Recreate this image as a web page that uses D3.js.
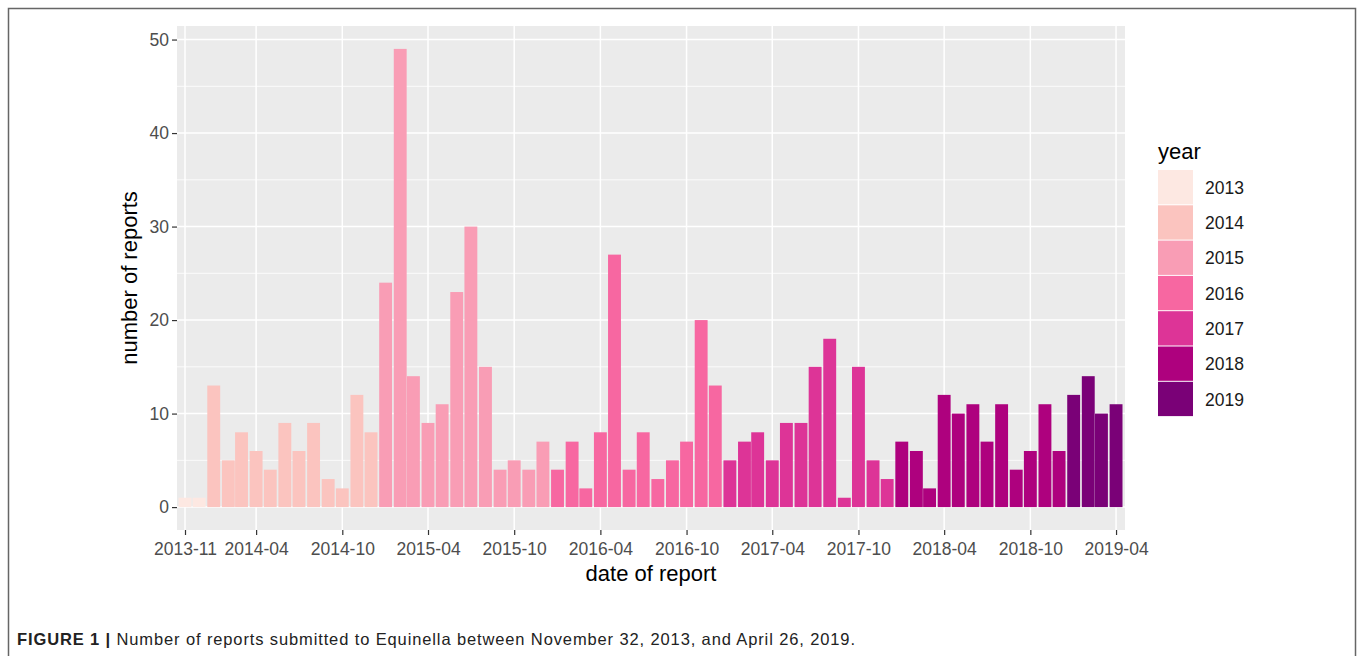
<!DOCTYPE html>
<html>
<head>
<meta charset="utf-8">
<script src="https://cdn.jsdelivr.net/npm/d3@7"></script>
<style>
  body { margin: 0; background: #fff; }
  svg { display: block; font-family: "Liberation Sans", Arial, sans-serif; }
</style>
</head>
<body>
<div id="chart"></div>
<script>
// monthly report counts, one array per year (first month is 2013-11)
const firstMonth = "2013-11";
const years = [2013, 2014, 2015, 2016, 2017, 2018, 2019];
const reports = [
    [1, 1],
    [13, 5, 8, 6, 4, 9, 6, 9, 3, 2, 12, 8],
    [24, 49, 14, 9, 11, 23, 30, 15, 4, 5, 4, 7],
    [4, 7, 2, 8, 27, 4, 8, 3, 5, 7, 20, 13],
    [5, 7, 8, 5, 9, 9, 15, 18, 1, 15, 5, 3],
    [7, 6, 2, 12, 10, 11, 7, 11, 4, 6, 11, 6],
    [12, 14, 10, 11]
];
const xTicks = ["2013-11", "2014-04", "2014-10", "2015-04", "2015-10", "2016-04",
    "2016-10", "2017-04", "2017-10", "2018-04", "2018-10", "2019-04"];
const yTicks = [0, 10, 20, 30, 40, 50];
const yMinor = [5, 15, 25, 35, 45];

const palette = ["#fde8e2", "#fbc4bf", "#f99db5", "#f767a1", "#dd3497", "#ae017e", "#7a0177"];

const W = 1358, H = 656;
const panel = { left: 177, right: 1125, top: 26, bottom: 530 };

const parseMonth = d3.timeParse("%Y-%m");

// flatten into one row per month
let rows = [];
let m = parseMonth(firstMonth);
years.forEach(function(yr, i) {
    reports[i].forEach(function(v) {
        rows.push({ date: m, year: yr, value: v });
        m = d3.timeMonth.offset(m, 1);
    });
});

const svg = d3.select("#chart").append("svg")
    .attr("width", W)
    .attr("height", H);

// figure frame
svg.append("rect")
    .attr("x", 8.5).attr("y", 8.5)
    .attr("width", 1347).attr("height", 660)
    .attr("fill", "none")
    .attr("stroke", "#666")
    .attr("stroke-width", 1.5);

const x = d3.scaleTime()
    .domain([d3.timeDay.offset(rows[0].date, -17), d3.timeDay.offset(rows[rows.length - 1].date, 19)])
    .range([panel.left, panel.right]);

const maxV = d3.max(rows, function(d) { return d.value; });
const y = d3.scaleLinear()
    .domain([-maxV * 0.05, maxV * 1.05])
    .range([panel.bottom, panel.top]);

const color = d3.scaleOrdinal().domain(years).range(palette);

// panel background + grid
svg.append("rect")
    .attr("x", panel.left).attr("y", panel.top)
    .attr("width", panel.right - panel.left)
    .attr("height", panel.bottom - panel.top)
    .attr("fill", "#ebebeb");

const grid = svg.append("g").attr("stroke", "#fff");

grid.selectAll(".minor")
    .data(yMinor)
    .enter().append("line")
    .attr("x1", panel.left).attr("x2", panel.right)
    .attr("y1", function(d) { return y(d); })
    .attr("y2", function(d) { return y(d); })
    .attr("stroke-width", 0.8);

grid.selectAll(".majY")
    .data(yTicks)
    .enter().append("line")
    .attr("x1", panel.left).attr("x2", panel.right)
    .attr("y1", function(d) { return y(d); })
    .attr("y2", function(d) { return y(d); })
    .attr("stroke-width", 1.5);

grid.selectAll(".majX")
    .data(xTicks)
    .enter().append("line")
    .attr("y1", panel.top).attr("y2", panel.bottom)
    .attr("x1", function(d) { return x(parseMonth(d)); })
    .attr("x2", function(d) { return x(parseMonth(d)); })
    .attr("stroke-width", 1.5);

// bars
const monthPx = (x(rows[rows.length - 1].date) - x(rows[0].date)) / (rows.length - 1);
const barW = monthPx * 0.9;

svg.append("g")
    .selectAll("rect")
    .data(rows)
    .enter().append("rect")
    .attr("x", function(d) { return x(d.date) - barW / 2; })
    .attr("width", barW)
    .attr("y", function(d) { return y(d.value); })
    .attr("height", function(d) { return y(0) - y(d.value); })
    .attr("fill", function(d) { return color(d.year); });

// axes
const yAxis = svg.append("g")
    .attr("transform", "translate(" + panel.left + ",0)")
    .call(d3.axisLeft(y).tickValues(yTicks).tickSize(5).tickPadding(3));

const xAxis = svg.append("g")
    .attr("transform", "translate(0," + panel.bottom + ")")
    .call(d3.axisBottom(x)
        .tickValues(xTicks.map(parseMonth))
        .tickFormat(d3.timeFormat("%Y-%m"))
        .tickSize(5).tickPadding(3));

[xAxis, yAxis].forEach(function(a) {
    a.select(".domain").remove();
    a.selectAll(".tick line").attr("stroke", "#333").attr("stroke-width", 1.2);
    a.selectAll(".tick text")
        .attr("fill", "#4d4d4d")
        .style("font-size", "17.5px")
        .style("font-family", "'Liberation Sans', Arial, sans-serif");
});
xAxis.selectAll(".tick text").attr("dy", "0.95em");

// axis titles
svg.append("text")
    .attr("x", (panel.left + panel.right) / 2)
    .attr("y", 581)
    .attr("text-anchor", "middle")
    .style("font-size", "22px")
    .text("date of report");

svg.append("text")
    .attr("transform", "translate(137," + (panel.top + panel.bottom) / 2 + ") rotate(-90)")
    .attr("text-anchor", "middle")
    .style("font-size", "22px")
    .text("number of reports");

// legend
const legend = svg.append("g").attr("transform", "translate(1158,170)");
const keyH = 35.3;

legend.append("text")
    .attr("x", 0).attr("y", -11)
    .style("font-size", "22px")
    .text("year");

const keys = legend.selectAll(".key")
    .data(years)
    .enter().append("g")
    .attr("transform", function(d, i) { return "translate(0," + i * keyH + ")"; });

keys.append("rect")
    .attr("width", 35)
    .attr("height", keyH - 1)
    .attr("fill", function(d) { return color(d); });

keys.append("text")
    .attr("x", 47)
    .attr("y", keyH / 2)
    .attr("dy", "0.35em")
    .style("font-size", "17.5px")
    .attr("fill", "#1a1a1a")
    .text(function(d) { return d; });

// caption
const cap = svg.append("text")
    .attr("x", 17)
    .attr("y", 645)
    .attr("textLength", 838)
    .attr("lengthAdjust", "spacing")
    .style("font-size", "16.5px")
    .attr("fill", "#222");
cap.append("tspan").style("font-weight", "bold").text("FIGURE 1 | ");
cap.append("tspan").text("Number of reports submitted to Equinella between November 32, 2013, and April 26, 2019.");
</script>
</body>
</html>
